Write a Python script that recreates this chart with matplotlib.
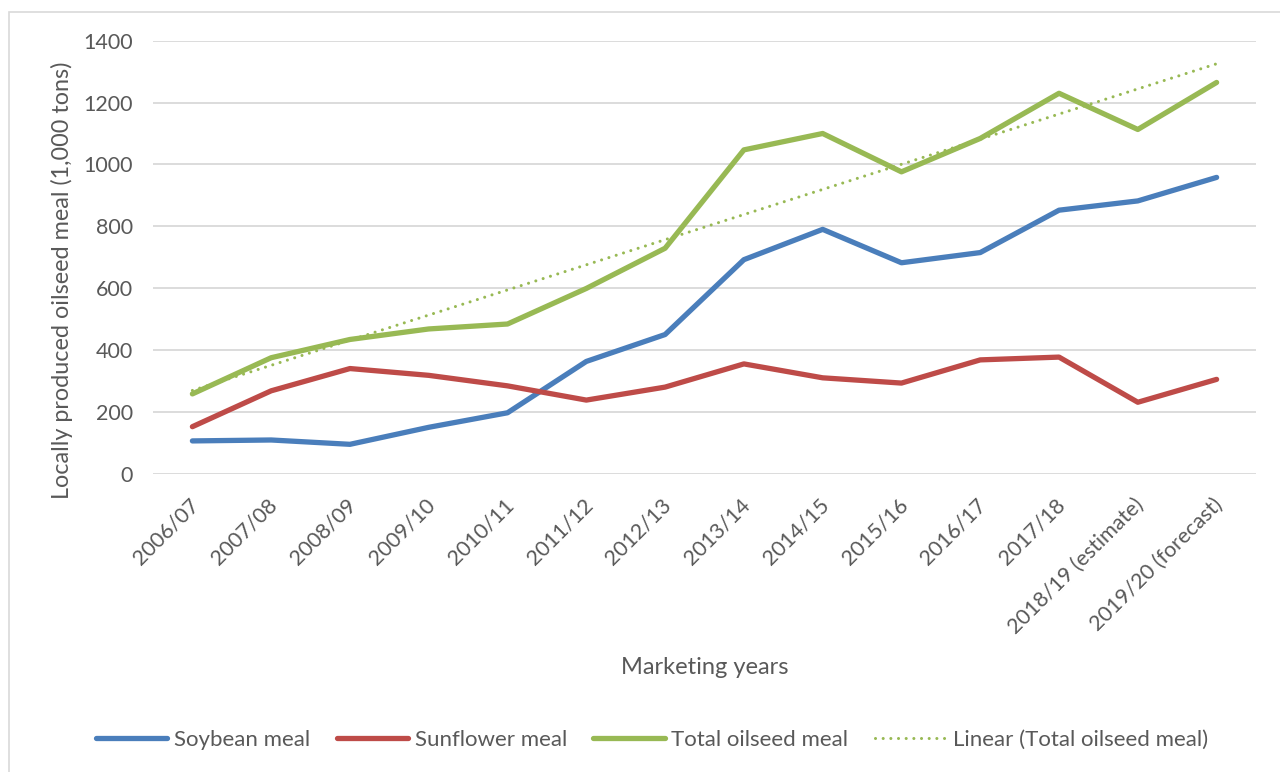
import numpy as np
import matplotlib
matplotlib.use("Agg")
import matplotlib.pyplot as plt
from matplotlib.patches import Rectangle
from matplotlib.transforms import ScaledTranslation

# Marketing years (categories)
years = ["2006/07", "2007/08", "2008/09", "2009/10", "2010/11", "2011/12",
         "2012/13", "2013/14", "2014/15", "2015/16", "2016/17", "2017/18",
         "2018/19 (estimate)", "2019/20 (forecast)"]

# Locally produced meal, 1,000 tons
soybean_meal = [106, 109, 95, 150, 197, 363, 450, 692, 790, 682, 715, 852, 882, 958]
sunflower_meal = [152, 268, 340, 318, 284, 238, 280, 355, 310, 293, 368, 377, 231, 305]
total_oilseed_meal = [258, 375, 434, 468, 484, 599, 729, 1047, 1100, 976, 1084, 1230, 1113, 1265]

y_ticks = [0, 200, 400, 600, 800, 1000, 1200, 1400]

BLUE = "#4A7EBB"
RED = "#BE4B48"
GREEN = "#98B954"
GRID = "#D9D9D9"
TEXT = "#595959"

plt.rcParams["font.family"] = ["Lato", "DejaVu Sans"]

W, H = 1280, 772
fig = plt.figure(figsize=(W / 100, H / 100), dpi=100)
fig.patch.set_facecolor("white")

# plot area in pixel units
left_px, right_px, top_px, bottom_px = 153, 1256, 40.7, 473.7
ax = fig.add_axes([left_px / W, 1 - bottom_px / H,
                   (right_px - left_px) / W, (bottom_px - top_px) / H])

x = np.arange(len(years))
ax.plot(x, soybean_meal, color=BLUE, lw=3.8, solid_capstyle="round",
        solid_joinstyle="round", label="Soybean meal", zorder=3)
ax.plot(x, sunflower_meal, color=RED, lw=3.8, solid_capstyle="round",
        solid_joinstyle="round", label="Sunflower meal", zorder=3)
ax.plot(x, total_oilseed_meal, color=GREEN, lw=3.8, solid_capstyle="round",
        solid_joinstyle="round", label="Total oilseed meal", zorder=3)

# least-squares linear trend of the total
slope, intercept = np.polyfit(x, total_oilseed_meal, 1)
ax.plot(x, slope * x + intercept, color=GREEN, lw=2.2,
        dashes=(0.01, 2.5), dash_capstyle="round",
        label="Linear (Total oilseed meal)", zorder=4)

ax.set_xlim(-0.5, len(years) - 0.5)
ax.set_ylim(0, 1400)
ax.set_yticks(y_ticks)
ax.set_yticklabels([str(v) for v in y_ticks])
ax.yaxis.grid(True, color=GRID, lw=1.3)
ax.set_axisbelow(True)
for s in ax.spines.values():
    s.set_visible(False)
ax.tick_params(axis="y", length=0, pad=14.5, labelsize=15.5, labelcolor=TEXT)
ax.tick_params(axis="x", length=0, pad=15, labelsize=15.5, labelcolor=TEXT)

ax.set_xticks(x)
ax.set_xticklabels(years, rotation=45, ha="right", va="top",
                   rotation_mode="anchor")
shift = ScaledTranslation(-4 / 100, 0, fig.dpi_scale_trans)
for lab in ax.get_xticklabels():
    lab.set_transform(lab.get_transform() + shift)

fig.text(705 / W, 1 - 668 / H, "Marketing years", ha="center", va="center",
         fontsize=17, color=TEXT)
fig.text(62 / W, 1 - 280 / H, "Locally produced oilseed meal (1,000 tons)",
         ha="center", va="center", rotation=90, fontsize=16.8, color=TEXT)

handles = ax.get_lines()
fig.legend(handles=handles, labels=[h.get_label() for h in handles],
           loc="center", bbox_to_anchor=(652 / W, 1 - 740 / H),
           ncol=4, frameon=False, fontsize=16, handlelength=3.2,
           handletextpad=0.3, columnspacing=1.2, labelcolor=TEXT)

# chart frame
fig.patches.append(Rectangle((9 / W, -0.1), 1.2, 1.1 - 11.5 / H,
                             transform=fig.transFigure, fill=False,
                             edgecolor=GRID, lw=1.2))

fig.savefig("out.png", dpi=100, facecolor="white")
